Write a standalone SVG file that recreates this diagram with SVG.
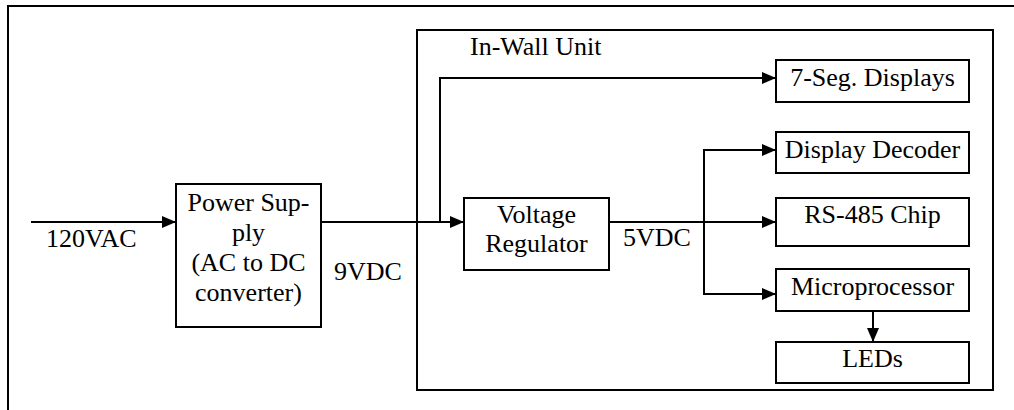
<svg xmlns="http://www.w3.org/2000/svg" width="1014" height="410" viewBox="0 0 1014 410">
<style>
  .box { fill: #ffffff; stroke: #000000; stroke-width: 2; }
  .frame { fill: none; stroke: #000000; stroke-width: 2; }
  .wire { fill: none; stroke: #000000; stroke-width: 2; }
  .arr { marker-end: url(#ah); }
  text { font-family: "Liberation Serif", "Times New Roman", serif; font-size: 26px; fill: #000000; }
  .c { text-anchor: middle; }
</style>
<defs>
  <marker id="ah" viewBox="0 0 14 12" refX="14" refY="6" markerWidth="14" markerHeight="12" markerUnits="userSpaceOnUse" orient="auto">
    <path d="M0,0 L14,6 L0,12 Z" fill="#000000"/>
  </marker>
</defs>
<rect width="1014" height="410" fill="#ffffff"/>
<g id="outer-frame">
  <rect class="frame" x="8" y="6" width="1030" height="430"/>
</g>
<g id="in-wall-unit">
  <rect class="frame" x="417" y="30" width="576" height="360"/>
  <text x="470" y="55">In-Wall Unit</text>
</g>
<g id="connectors">
  <line class="wire arr" x1="31" y1="222" x2="176" y2="222"/>
  <line class="wire arr" x1="321" y1="222" x2="464" y2="222"/>
  <polyline class="wire arr" points="440,222 440,78 776,78"/>
  <line class="wire arr" x1="609" y1="222" x2="776" y2="222"/>
  <line class="wire" x1="704" y1="150" x2="704" y2="294"/>
  <line class="wire arr" x1="703" y1="150" x2="776" y2="150"/>
  <line class="wire arr" x1="703" y1="294" x2="776" y2="294"/>
  <line class="wire arr" x1="873" y1="311" x2="873" y2="342"/>
  <text x="46" y="247">120VAC</text>
  <text x="334" y="280">9VDC</text>
  <text x="623" y="246">5VDC</text>
</g>
<g id="power-supply">
  <rect class="box" x="176" y="184" width="145" height="143"/>
  <text class="c" x="248.5" y="211">Power Sup-</text>
  <text class="c" x="248.5" y="241">ply</text>
  <text class="c" x="248.5" y="271">(AC to DC</text>
  <text class="c" x="248.5" y="301">converter)</text>
</g>
<g id="voltage-regulator">
  <rect class="box" x="464" y="198" width="145" height="72"/>
  <text class="c" x="536.5" y="223">Voltage</text>
  <text class="c" x="536.5" y="252">Regulator</text>
</g>
<g id="seven-seg-displays">
  <rect class="box" x="776" y="60" width="193" height="42"/>
  <text class="c" x="872.5" y="86">7-Seg. Displays</text>
</g>
<g id="display-decoder">
  <rect class="box" x="776" y="132" width="193" height="41"/>
  <text class="c" x="872.5" y="158">Display Decoder</text>
</g>
<g id="rs485-chip">
  <rect class="box" x="776" y="198" width="193" height="48"/>
  <text class="c" x="872.5" y="223">RS-485 Chip</text>
</g>
<g id="microprocessor">
  <rect class="box" x="776" y="269" width="193" height="42"/>
  <text class="c" x="872.5" y="295">Microprocessor</text>
</g>
<g id="leds">
  <rect class="box" x="776" y="342" width="193" height="41"/>
  <text class="c" x="872.5" y="367">LEDs</text>
</g>
</svg>
